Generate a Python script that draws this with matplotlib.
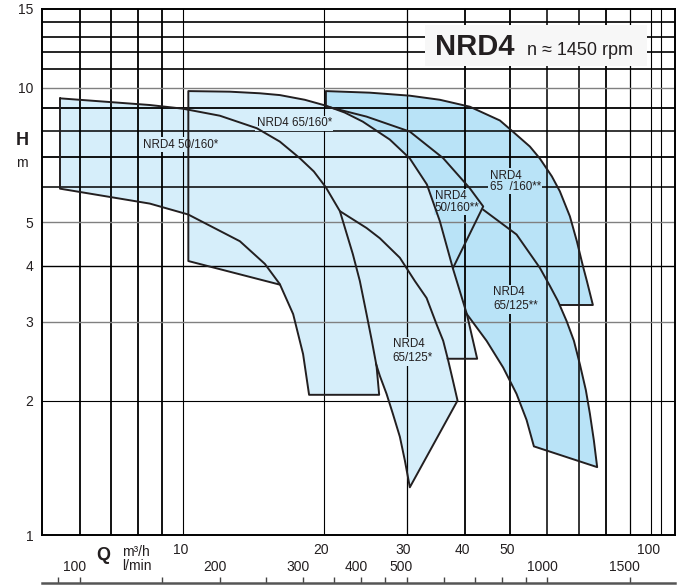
import matplotlib
matplotlib.use("Agg")
import matplotlib.pyplot as plt
import numpy as np
from matplotlib import font_manager
from matplotlib.patches import Rectangle
from matplotlib.ticker import NullLocator
from matplotlib.transforms import ScaledTranslation

# Q in m3/h, H in m
# NRD4 50/160*
a_top_q = [5.45, 8.48, 9.97, 11.97, 14.36, 16.08, 17.74, 19.01, 20.17, 21.61, 23.03, 23.84, 24.64, 25.29, 25.88, 26.22]
a_top_h = [9.47, 9.15, 8.98, 8.66, 8.12, 7.58, 6.96, 6.50, 5.99, 5.30, 4.25, 3.70, 3.12, 2.72, 2.39, 2.06]
a_low_q = [5.45, 8.48, 10.24, 13.21, 14.94, 16.08, 17.17, 18.03, 18.57]
a_low_h = [5.95, 5.51, 5.21, 4.54, 4.04, 3.64, 3.12, 2.54, 2.06]

# NRD4 65/160*
b_top_q = [10.25, 12.57, 14.57, 16.08, 18.18, 20.17, 22.14, 24.19, 27.63, 30.49, 33.16, 35.35, 37.68, 40.37, 42.47]
b_top_h = [9.83, 9.80, 9.72, 9.63, 9.40, 9.12, 8.80, 8.40, 7.66, 6.95, 6.08, 5.03, 3.95, 3.12, 2.48]
b_low_q = [10.25, 16.1]
b_low_h = [4.10, 3.63]
b_end_q = 36.7

# NRD4 65/125*
c_right_q = [21.61, 24.64, 26.31, 29.03, 31.25, 33.11, 34.78, 35.93, 36.82, 37.68, 38.56]
c_right_h = [5.30, 4.86, 4.61, 4.17, 3.70, 3.39, 2.96, 2.72, 2.46, 2.22, 2.00]
c_left_q = [30.49, 29.75, 29.03, 28.04, 27.19, 26.31, 25.8]
c_left_h = [1.28, 1.47, 1.66, 1.87, 2.07, 2.27, 2.42]

# NRD4 65/160**
d_top_q = [20.17, 25.04, 30.49, 35.35, 40.97, 47.50, 50.62, 55.05, 57.81, 61.33, 63.80, 67.03, 69.37, 71.45, 72.87, 75.06]
d_top_h = [9.83, 9.75, 9.60, 9.40, 9.07, 8.45, 7.98, 7.39, 6.95, 6.34, 5.87, 5.16, 4.54, 4.00, 3.70, 3.27]
d_end_q = 63.8

# NRD4 50/160**
e_top_q = [20.17, 24.64, 30.49, 35.93, 40.97, 43.75, 37.68]
e_top_h = [9.09, 8.62, 7.98, 6.96, 5.96, 5.43, 3.95]

# NRD4 65/125**
f_right_q = [43.75, 51.55, 57.81, 60.73, 63.18, 65.96, 68.37, 70.41, 72.51, 73.96, 75.42, 76.66]
f_right_h = [5.34, 4.70, 3.96, 3.61, 3.34, 3.01, 2.72, 2.41, 2.11, 1.87, 1.63, 1.42]
f_left_q = [40.37, 44.48, 48.27, 51.55, 54.16, 56.15]
f_left_h = [3.12, 2.72, 2.37, 2.07, 1.81, 1.58]

labels = ["NRD4 50/160*", "NRD4 65/160*", "NRD4\n65  /160**", "NRD4\n50/160**", "NRD4\n65/125**", "NRD4\n65/125*"]
label_q = [8.18, 14.34, 45.2, 34.5, 45.95, 28.0]
label_h = [7.46, 8.33, 6.18, 5.56, 3.37, 2.58]
label_dark = [False, False, True, True, True, False]

q_ticks = [10, 20, 30, 40, 50, 100]
h_ticks = [1, 2, 3, 4, 5, 10, 15]
lmin_ticks = [90, 100, 150, 200, 250, 300, 350, 400, 450, 500, 600, 700, 800, 900, 1000, 1500]
lmin_labels = ["", "100", "", "200", "", "300", "", "400", "", "500", "", "", "", "", "1000", "1500"]

vgrid = [6, 7, 8, 9, 10, 20, 30, 40, 50, 60, 70, 80, 90, 100, 105]
vgrid_lw = [1.3, 1.3, 1.3, 1.3, 0.8, 0.8, 0.9, 1.3, 1.3, 1.1, 1.1, 1.3, 0.9, 0.8, 0.8]
hgrid = [2, 3, 4, 5, 6, 7, 8, 9, 10, 11, 12, 13, 14]
hgrid_lw = [0.8, 1.0, 1.0, 1.0, 1.1, 1.3, 1.1, 1.3, 1.0, 1.2, 1.2, 1.2, 1.2]
hgrid_c = ['k', 'gray', 'k', 'gray', 'k', 'k', 'k', 'k', 'gray', 'k', 'k', 'k', 'k']

plt.rcParams['font.family'] = ['Liberation Sans', 'DejaVu Sans']
names = {f.name for f in font_manager.fontManager.ttflist}
if 'Liberation Sans Narrow' in names:
    lab_font, lab_size = ['Liberation Sans Narrow', 'Liberation Sans'], 10
else:
    lab_font, lab_size = ['Liberation Sans', 'DejaVu Sans'], 8.4

ink = '#231f20'
light = '#d6eefa'
dark = '#b9e3f7'

fig = plt.figure(figsize=(6.83, 5.85), dpi=100)
ax = fig.add_axes([0.0622, 0.0850, 0.9265, 0.8997])
ax.set_xscale('log')
ax.set_yscale('log')
ax.set_xlim(5, 112.6)
ax.set_ylim(1, 15)

# fills (same colour, so overlaps merge)
ax.fill(a_top_q + a_low_q[::-1], a_top_h + a_low_h[::-1], color=light, lw=0, zorder=1)
ax.fill(b_top_q + [b_end_q] + b_low_q[::-1], b_top_h + [b_top_h[-1]] + b_low_h[::-1],
        color=light, lw=0, zorder=1)
ax.fill(c_right_q + c_left_q, c_right_h + c_left_h, color=light, lw=0, zorder=1)

bq = np.array(b_top_q)
bh = np.array(b_top_h)
fr_q = np.array(f_right_q)
fr_h = np.array(f_right_h)
low_part = fr_h < d_top_h[-1]
b_part = (bq >= d_top_q[0]) & (bq < f_left_q[0])
dq = np.concatenate([d_top_q, [d_end_q], fr_q[low_part], f_left_q[::-1], bq[b_part][::-1]])
dh = np.concatenate([d_top_h, [d_top_h[-1]], fr_h[low_part], f_left_h[::-1], bh[b_part][::-1]])
ax.fill(dq, dh, color=dark, lw=0, zorder=1)

# grid
for x, w in zip(vgrid, vgrid_lw):
    ax.axvline(x, color='k', lw=w, zorder=2)
for y, w, c in zip(hgrid, hgrid_lw, hgrid_c):
    ax.axhline(y, color=c, lw=w, zorder=2)

# curves
kw = dict(color=ink, lw=1.4, zorder=4, solid_joinstyle='round', solid_capstyle='round')
ax.plot(a_top_q + a_low_q[::-1] + [a_top_q[0]], a_top_h + a_low_h[::-1] + [a_top_h[0]], **kw)
ax.plot(b_low_q[::-1] + b_top_q + [b_end_q], b_low_h[::-1] + b_top_h + [b_top_h[-1]], **kw)
ax.plot(c_right_q + c_left_q, c_right_h + c_left_h, **kw)
ax.plot([d_top_q[0]] + d_top_q + [d_end_q], [b_top_h[5]] + d_top_h + [d_top_h[-1]], **kw)
ax.plot(e_top_q, e_top_h, **kw)
ax.plot(f_left_q + f_right_q[::-1], f_left_h + f_right_h[::-1], **kw)

for t, q, h, dk in zip(labels, label_q, label_h, label_dark):
    ls = 0.95 if ('160**' in t) else 1.25
    ax.text(q, h, t, ha='left', va='center', fontsize=lab_size, family=lab_font, color=ink,
            linespacing=ls, zorder=3,
            bbox=dict(boxstyle='square,pad=0.12', fc=dark if dk else light, ec='none'))

# title box
ax.add_patch(Rectangle((0.604, 0.8917), 0.3508, 0.0779, transform=ax.transAxes,
                       facecolor='#f7f7f7', edgecolor='none', zorder=3))
ax.text(0.6203, 0.9116, 'NRD4', transform=ax.transAxes, fontsize=21, fontweight='bold',
        color=ink, va='baseline', ha='left', zorder=5)
ax.text(0.7652, 0.9116, 'n ≈ 1450 rpm', transform=ax.transAxes, fontsize=13,
        color=ink, va='baseline', ha='left', zorder=5)

# axes
for s in ax.spines.values():
    s.set_linewidth(1.4)
    s.set_color('k')
ax.set_xticks(q_ticks, labels=[str(v) for v in q_ticks])
ax.set_yticks(h_ticks, labels=[str(v) for v in h_ticks])
ax.xaxis.set_minor_locator(NullLocator())
ax.yaxis.set_minor_locator(NullLocator())
ax.tick_params(axis='x', length=0, pad=5.5, labelsize=10, labelcolor=ink)
ax.tick_params(axis='y', length=0, pad=6.5, labelsize=10, labelcolor=ink)
shift_q = ScaledTranslation(-3 / 100, 0, fig.dpi_scale_trans)
for lab in ax.get_xticklabels():
    lab.set_transform(lab.get_transform() + shift_q)

sec = ax.secondary_xaxis(-0.0901, functions=(lambda q: q * 1000 / 60, lambda l: l * 60 / 1000))
sec.set_alignment('top')
sec.set_xticks(lmin_ticks, labels=lmin_labels)
sec.xaxis.set_minor_locator(NullLocator())
sec.tick_params(axis='x', direction='out', length=4, width=1, color='#444444',
                pad=2, labelsize=10, labelcolor=ink)
sec.spines['top'].set_linewidth(1.8)
sec.spines['top'].set_color('#555555')
shift_l = ScaledTranslation(-5 / 100, 0, fig.dpi_scale_trans)
for lab in sec.get_xticklabels():
    lab.set_transform(lab.get_transform() + shift_l)

fig.text(0.0332, 0.759, 'H', fontsize=13, fontweight='bold', color=ink, ha='center', va='center')
fig.text(0.0322, 0.7214, 'm', fontsize=10, color=ink, ha='center', va='center')
fig.text(0.1508, 0.0496, 'Q', fontsize=13, fontweight='bold', color=ink, ha='center', va='center')
fig.text(0.1782, 0.0564, 'm³/h', fontsize=10, color=ink, ha='left', va='center')
fig.text(0.1782, 0.0325, 'l/min', fontsize=10, color=ink, ha='left', va='center')

fig.savefig('out.png', dpi=100)
